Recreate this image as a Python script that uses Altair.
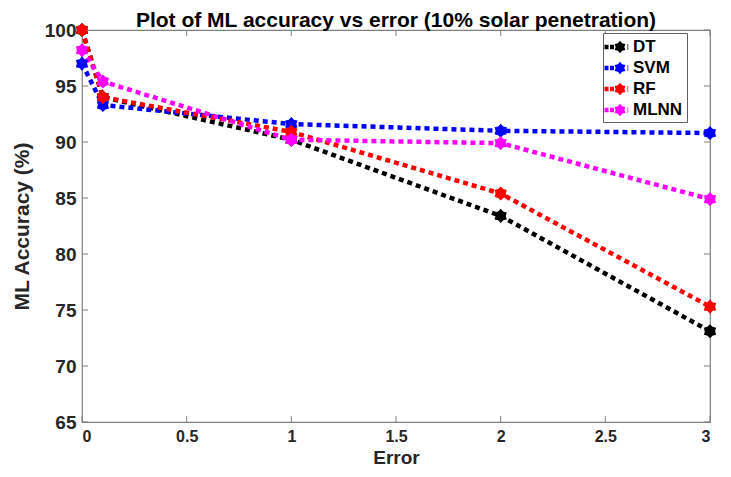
import math
import altair as alt
import pandas as pd

# ---- data ----
errors = [0, 0.1, 1, 2, 3]
series_names = ["DT", "SVM", "RF", "MLNN"]
dt = [100.0, 94.0, 90.2, 83.4, 73.1]
svm = [97.0, 93.3, 91.6, 91.0, 90.8]
rf = [100.0, 94.0, 90.9, 85.4, 75.3]
mlnn = [98.2, 95.4, 90.2, 89.9, 84.9]
colors = ["#000000", "#0000FF", "#FF0000", "#FF00FF"]
x_ticks = [0, 0.5, 1, 1.5, 2, 2.5, 3]
y_ticks = [65, 70, 75, 80, 85, 90, 95, 100]

values = {"DT": dt, "SVM": svm, "RF": rf, "MLNN": mlnn}
rows = []
for order, name in enumerate(series_names):
    for e, v in zip(errors, values[name]):
        rows.append({"Error": e, "Accuracy": v, "Model": name, "order": order})
df = pd.DataFrame(rows)

W, H = 628, 392


def hexa_at(cx, s, inner=0.7):
    p = []
    for k in range(12):
        ang = math.radians(-90 + 30 * k)
        r = (1.0 if k % 2 == 0 else inner) * s
        p.append((cx + r * math.cos(ang), r * math.sin(ang)))
    return "M" + " L".join(f"{x:.3f},{y:.3f}" for x, y in p) + " Z"


hexa = hexa_at(0, 1.0, inner=0.72)

leg_sym = (
    "M-1.25,-0.22 L-0.85,-0.22 L-0.85,0.22 L-1.25,0.22 Z "
    "M-0.7,-0.22 L-0.3,-0.22 L-0.3,0.22 L-0.7,0.22 Z "
    + hexa_at(0.3, 0.62)
    + " M1.05,-0.3 L1.12,-0.3 L1.12,0.3 L1.05,0.3 Z"
)

color_scale = alt.Scale(domain=series_names, range=colors)
xs = alt.Scale(domain=[0, 3], nice=False)
ys = alt.Scale(domain=[65, 100], nice=False)

legend = alt.Legend(
    title=None, orient="none", legendX=521, legendY=3,
    symbolType=leg_sym, symbolSize=400, symbolStrokeWidth=0,
    symbolDash=[1, 0], symbolOpacity=1,
    labelFontSize=17, labelFontWeight="bold", labelColor="#000000",
    labelFont="Liberation Sans", rowPadding=3, padding=4,
    strokeColor="#606060", fillColor="white", cornerRadius=0,
    labelOffset=6,
)

base = alt.Chart(df)

lines = base.mark_line(strokeWidth=4.5, strokeDash=[5, 4]).encode(
    x=alt.X("Error:Q", scale=xs,
            axis=alt.Axis(values=x_ticks, format="~g", title="Error", tickSize=0,
                          grid=False, labelPadding=6, titlePadding=4,
                          labelFontSize=16)),
    y=alt.Y("Accuracy:Q", scale=ys,
            axis=alt.Axis(values=y_ticks, title="ML Accuracy (%)", tickSize=0,
                          grid=False, labelPadding=6, titlePadding=12,
                          labelFontSize=19, titleFontSize=21)),
    color=alt.Color("Model:N", scale=color_scale, legend=legend),
    detail="Model:N",
    order="Error:Q",
)

points = base.mark_point(shape=hexa, filled=True, size=200, opacity=1).encode(
    x=alt.X("Error:Q", scale=xs),
    y=alt.Y("Accuracy:Q", scale=ys),
    color=alt.Color("Model:N", scale=color_scale, legend=legend),
    order="order:Q",
)

tick_x = pd.DataFrame({"t": x_ticks})
tick_y = pd.DataFrame({"t": y_ticks})
xt_bottom = alt.Chart(tick_x).mark_rule(color="#808080", strokeWidth=1).encode(
    x=alt.X("t:Q", scale=xs), y=alt.value(H), y2=alt.value(H - 6))
xt_top = alt.Chart(tick_x).mark_rule(color="#808080", strokeWidth=1).encode(
    x=alt.X("t:Q", scale=xs), y=alt.value(0), y2=alt.value(6))
yt_left = alt.Chart(tick_y).mark_rule(color="#808080", strokeWidth=1).encode(
    y=alt.Y("t:Q", scale=ys), x=alt.value(0), x2=alt.value(6))
yt_right = alt.Chart(tick_y).mark_rule(color="#808080", strokeWidth=1).encode(
    y=alt.Y("t:Q", scale=ys), x=alt.value(W), x2=alt.value(W - 6))

chart = (
    alt.layer(xt_bottom, xt_top, yt_left, yt_right, lines, points)
    .properties(
        width=W, height=H,
        title=alt.Title("Plot of ML accuracy vs error (10% solar penetration)",
                        fontSize=21, fontWeight="bold", color="#000000",
                        font="Liberation Sans", offset=8, frame="group", dy=18),
        autosize=alt.AutoSizeParams(type="none"),
        padding={"left": 74, "top": 22, "right": 10, "bottom": 55},
    )
    .configure_view(stroke="#808080", strokeWidth=1.2)
    .configure_axis(
        labelFont="Liberation Sans", titleFont="Liberation Sans",
        labelFontSize=16, titleFontSize=19, labelFontWeight="bold",
        titleFontWeight="bold", labelColor="#262626", titleColor="#262626",
        domain=False,
    )
)

chart.save("out.html", embed_options={"renderer": "svg", "actions": False})
